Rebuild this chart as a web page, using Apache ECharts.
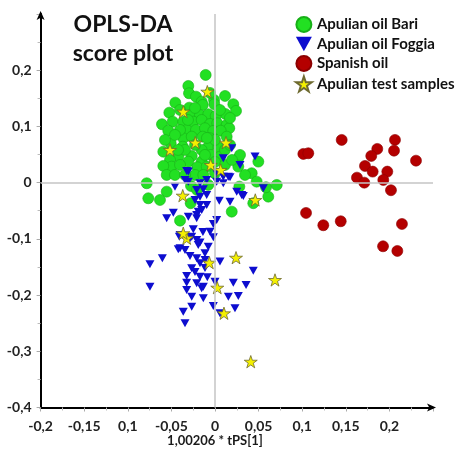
<!DOCTYPE html>
<html><head><meta charset="utf-8">
<script src="https://cdn.jsdelivr.net/npm/echarts@6/dist/echarts.min.js"></script>
<style>html,body{margin:0;padding:0;background:#fff}#c{width:459px;height:452px}</style>
</head><body><div id="c"></div>
<script>
const seriesNames = ['Apulian oil Bari','Apulian oil Foggia','Spanish oil','Apulian test samples'];
const xTicks = [-0.2,-0.15,-0.1,-0.05,0,0.05,0.1,0.15,0.2];
const xTickLabels = ['-0,2','-0,15','0,1','-0,05','0','0,05','0,1','0,15','0,2'];
const yTicks = [-0.4,-0.3,-0.2,-0.1,0,0.1,0.2];
const yTickLabels = ['-0,4','-0,3','-0,2','-0,1','0','0,1','0,2'];
const titleText = 'OPLS-DA\nscore plot';
const xAxisTitle = '1,00206 * tPS[1]';

const bariPts = [
[-0.0107,0.1916],[-0.0306,0.1720],[-0.0298,0.1590],[-0.0218,0.1530],[0.0115,0.1542],[-0.0455,0.1423],[-0.0153,0.1441],[-0.0011,0.1471],
[-0.0141,0.1382],[-0.0008,0.1395],[-0.0295,0.1334],[-0.0524,0.1245],[0.0210,0.1395],[0.0241,0.1276],[0.0118,0.1222],[-0.0283,0.1204],
[-0.0172,0.1204],[-0.0077,0.1217],[0.0008,0.1187],[-0.0608,0.1039],[-0.0485,0.1085],[-0.0536,0.0925],[-0.0364,0.1085],[-0.0249,0.1085],
[-0.0153,0.1115],[-0.0057,0.1044],[0.0026,0.1057],[0.0134,0.1026],[0.0164,0.0968],[-0.0325,0.0938],[-0.0218,0.0938],[-0.0115,0.0968],
[-0.0020,0.0920],[0.0065,0.0925],[-0.0364,0.0790],[-0.0267,0.0818],[-0.0141,0.0818],[-0.0057,0.0790],[0.0134,0.0818],[-0.0508,0.0701],
[-0.0370,0.0640],[-0.0077,0.0640],[0.0038,0.0630],[-0.0593,0.0551],[-0.0153,0.0582],[-0.0421,0.0463],[-0.0267,0.0475],[-0.0046,0.0493],
[0.0057,0.0463],[-0.0516,0.0404],[0.0267,0.0434],[0.0287,0.0493],[-0.0306,0.0374],[-0.0153,0.0374],[0.0497,0.0374],[-0.0497,0.0285],
[-0.0593,0.0297],[-0.0203,0.0274],[-0.0095,0.0285],[0.0421,0.0167],[-0.0554,0.0137],[-0.0229,0.0137],[-0.0134,0.0137],[0.0000,0.0167],
[0.0267,0.0285],[0.0478,0.0018],[-0.0783,-0.0011],[-0.0275,-0.0059],[-0.0077,-0.0041],[-0.0554,-0.0160],[-0.0765,-0.0278],[-0.0631,-0.0308],
[-0.0279,-0.0366],[0.0611,-0.0249],[-0.0459,0.0137],[0.0279,-0.0071],[0.0585,-0.0082],[0.0708,-0.0041],[0.0439,-0.0366],[0.0192,-0.0516],
[-0.0401,-0.0676],[-0.0401,0.0938],[-0.0229,0.0671],[0.0000,0.0760],[-0.0344,0.0582],[0.0115,0.0582],[-0.0459,0.0849],[-0.0574,0.0760],
[0.0172,0.0671],[-0.0115,0.0493],[-0.0401,0.0315],[0.0000,0.0368],[0.0057,0.1293],[-0.0401,0.1293],[-0.0057,0.1596],[-0.0229,0.1329],
[0.0172,0.1151],[-0.0424,0.0582],[-0.0206,-0.0130],[0.0115,0.0315],[-0.0344,0.0137],[0.0344,0.0137],[0.0195,0.0404],[-0.0310,0.1115],
[-0.0092,0.0795]
];

const foggiaPts = [
[-0.0306,0.0196],[0.0019,0.0167],[0.0172,0.0096],[0.0459,0.0463],[0.0287,0.0315],[-0.0459,-0.0071],[-0.0306,0.0018],[-0.0172,-0.0011],
[-0.0095,0.0048],[0.0019,0.0018],[0.0095,-0.0011],[-0.0210,-0.0130],[-0.0134,-0.0117],[0.0249,-0.0160],[0.0306,-0.0219],[0.0554,-0.0100],
[0.0049,-0.0320],[0.0172,-0.0338],[-0.0172,-0.0249],[-0.0095,-0.0397],[-0.0172,-0.0397],[-0.0192,-0.0516],[-0.0478,-0.0534],[-0.0554,-0.0633],
[-0.0306,-0.0605],[-0.0210,-0.0633],[0.0019,-0.0664],[-0.0019,-0.0735],[-0.0249,-0.0829],[-0.0057,-0.0872],[-0.0401,-0.0930],[-0.0267,-0.0961],
[-0.0019,-0.0971],[-0.0210,-0.1019],[-0.0172,-0.1067],[-0.0077,-0.1139],[-0.0421,-0.1185],[-0.0344,-0.1197],[-0.0287,-0.1304],[-0.0210,-0.1345],
[-0.0115,-0.1375],[-0.0604,-0.1345],[-0.0746,-0.1452],[-0.0172,-0.1434],[-0.0267,-0.1523],[0.0057,-0.1405],[0.0439,-0.1566],[-0.0325,-0.1660],
[-0.0172,-0.1672],[-0.0088,-0.1683],[-0.0325,-0.1779],[-0.0210,-0.1790],[-0.0134,-0.1850],[0.0210,-0.1779],[0.0356,-0.1820],[0.0000,-0.1761],
[-0.0746,-0.1850],[-0.0267,-0.2028],[-0.0134,-0.2057],[0.0153,-0.2028],[0.0267,-0.2016],[-0.0267,-0.2206],[-0.0019,-0.2193],[0.0229,-0.2234],
[-0.0364,-0.2295],[-0.0344,-0.2501],[0.0057,-0.2323],[0.0192,0.0612],[-0.0325,0.0208],[0.0153,0.0107],[-0.0401,-0.1167],[-0.0115,-0.1256],
[-0.0325,-0.1909],[-0.0153,-0.1879],[0.0095,0.0107],[-0.0153,-0.0486],[0.0325,-0.0237],[-0.0210,-0.0575],[-0.0409,-0.0961],[-0.0287,-0.0989],
[-0.0192,-0.1108],[-0.0229,-0.0308],[-0.0138,-0.0877],[-0.0115,-0.1518],[-0.0229,-0.1589],[-0.0095,-0.0219],[0.0095,0.0434],[-0.0344,0.0048]
];

const spanishPts = [
[0.1453,0.0760],[0.1013,0.0511],[0.1070,0.0523],[0.2064,0.0760],[0.1861,0.0600],[0.2053,0.0569],[0.1792,0.0475],[0.2305,0.0391],
[0.1720,0.0297],[0.1808,0.0196],[0.1976,0.0196],[0.1628,0.0089],[0.1712,0.0000],[0.1930,0.0048],[0.2018,-0.0135],[0.1044,-0.0539],
[0.1242,-0.0758],[0.1442,-0.0687],[0.2144,-0.0735],[0.1927,-0.1132],[0.2091,-0.1215]
];

const testPts = [
[-0.0088,0.1619],[-0.0364,0.1263],[-0.0226,0.0712],[-0.0516,0.0582],[0.0126,0.0712],[-0.0049,0.0315],[0.0065,0.0226],[-0.0370,-0.0231],
[0.0462,-0.0308],[-0.0325,-0.0989],[-0.0364,-0.0900],[-0.0065,-0.1423],[0.0241,-0.1335],[0.0688,-0.1731],[0.0026,-0.1868],[0.0103,-0.2324],
[0.0410,-0.3185]
];

const FONT = 'Lato, "Liberation Sans", Arial, sans-serif';
const STAR = 'path://M50,0 L61.8,35.1 L98.1,35.1 L68.7,56.8 L79.4,91.5 L50,70 L20.6,91.5 L31.3,56.8 L1.9,35.1 L38.2,35.1 Z';
const TRI_DOWN = 'path://M0,0 L100,0 L50,90 Z';

function lookup(ticks, labels) {
  return function (v) {
    for (let i = 0; i < ticks.length; i++) if (Math.abs(ticks[i] - v) < 1e-9) return labels[i];
    return '';
  };
}

const chart = echarts.init(document.getElementById('c'), null, {renderer: 'canvas'});
chart.setOption({
  backgroundColor: '#ffffff',
  animation: false,
  grid: {left: 40.6, right: 26, top: 14, bottom: 44.5, outerBoundsMode: 'none', containLabel: false},
  graphic: [
    {type: 'text', x: 123, y: 10, style: {text: titleText, font: 'bold 23px ' + FONT, fill: '#111', align: 'center', verticalAlign: 'top', lineHeight: 29}},
    {type: 'text', x: 215, y: 441, style: {text: xAxisTitle, font: 'bold 13px ' + FONT, fill: '#1a1a1a', align: 'center', verticalAlign: 'middle'}}
  ],
  legend: {
    orient: 'vertical', left: 290, top: 11, itemWidth: 16, itemHeight: 15, itemGap: 3.5,
    data: seriesNames,
    textStyle: {fontFamily: FONT, fontWeight: 'bold', fontSize: 15, color: '#111'}
  },
  xAxis: {
    type: 'value', min: -0.2, max: 0.25, interval: 0.05,
    axisLine: {show: true, onZero: false, lineStyle: {color: '#000', width: 2}, symbol: ['none', 'arrow'], symbolSize: [6, 9], symbolOffset: [0, 3]},
    axisTick: {show: true, length: 4, lineStyle: {color: '#aaa'}},
    minorTick: {show: true, splitNumber: 2, length: 3, lineStyle: {color: '#bbb'}},
    splitLine: {show: false},
    axisLabel: {margin: 12, fontFamily: FONT, fontWeight: 'bold', fontSize: 14, color: '#222', formatter: lookup(xTicks, xTickLabels), showMaxLabel: false}
  },
  yAxis: {
    type: 'value', min: -0.4, max: 0.3, interval: 0.1,
    axisLine: {show: true, onZero: false, lineStyle: {color: '#000', width: 2}, symbol: ['none', 'arrow'], symbolSize: [6, 9], symbolOffset: [0, 3]},
    axisTick: {show: true, length: 4, lineStyle: {color: '#aaa'}},
    minorTick: {show: true, splitNumber: 2, length: 3, lineStyle: {color: '#bbb'}},
    splitLine: {show: false},
    axisLabel: {margin: 9, fontFamily: FONT, fontWeight: 'bold', fontSize: 14, color: '#222', formatter: lookup(yTicks, yTickLabels)}
  },
  series: [
    {
      name: seriesNames[0], type: 'scatter', data: bariPts, symbol: 'circle', symbolSize: 11, z: 2,
      itemStyle: {color: '#22e022', borderColor: '#17b017', borderWidth: 0.6, opacity: 1},
      markLine: {
        silent: true, symbol: ['none', 'none'], label: {show: false}, animation: false,
        lineStyle: {color: '#c4c4c4', width: 1.5, type: 'solid'},
        data: [{xAxis: 0}, {yAxis: 0}]
      }
    },
    {
      name: seriesNames[1], type: 'scatter', data: foggiaPts, symbol: TRI_DOWN, symbolSize: [9, 8], z: 3,
      itemStyle: {color: '#0d0dcf', opacity: 1}
    },
    {
      name: seriesNames[2], type: 'scatter', data: spanishPts, symbol: 'circle', symbolSize: 11, z: 3,
      itemStyle: {color: '#b40000', borderColor: '#8c0000', borderWidth: 0.6, opacity: 1}
    },
    {
      name: seriesNames[3], type: 'scatter', data: testPts, symbol: STAR, symbolKeepAspect: true, symbolSize: 13, z: 4,
      itemStyle: {color: '#f4f000', borderColor: '#6e6a30', borderWidth: 0.8, opacity: 1}
    }
  ]
});
</script>
</body></html>
